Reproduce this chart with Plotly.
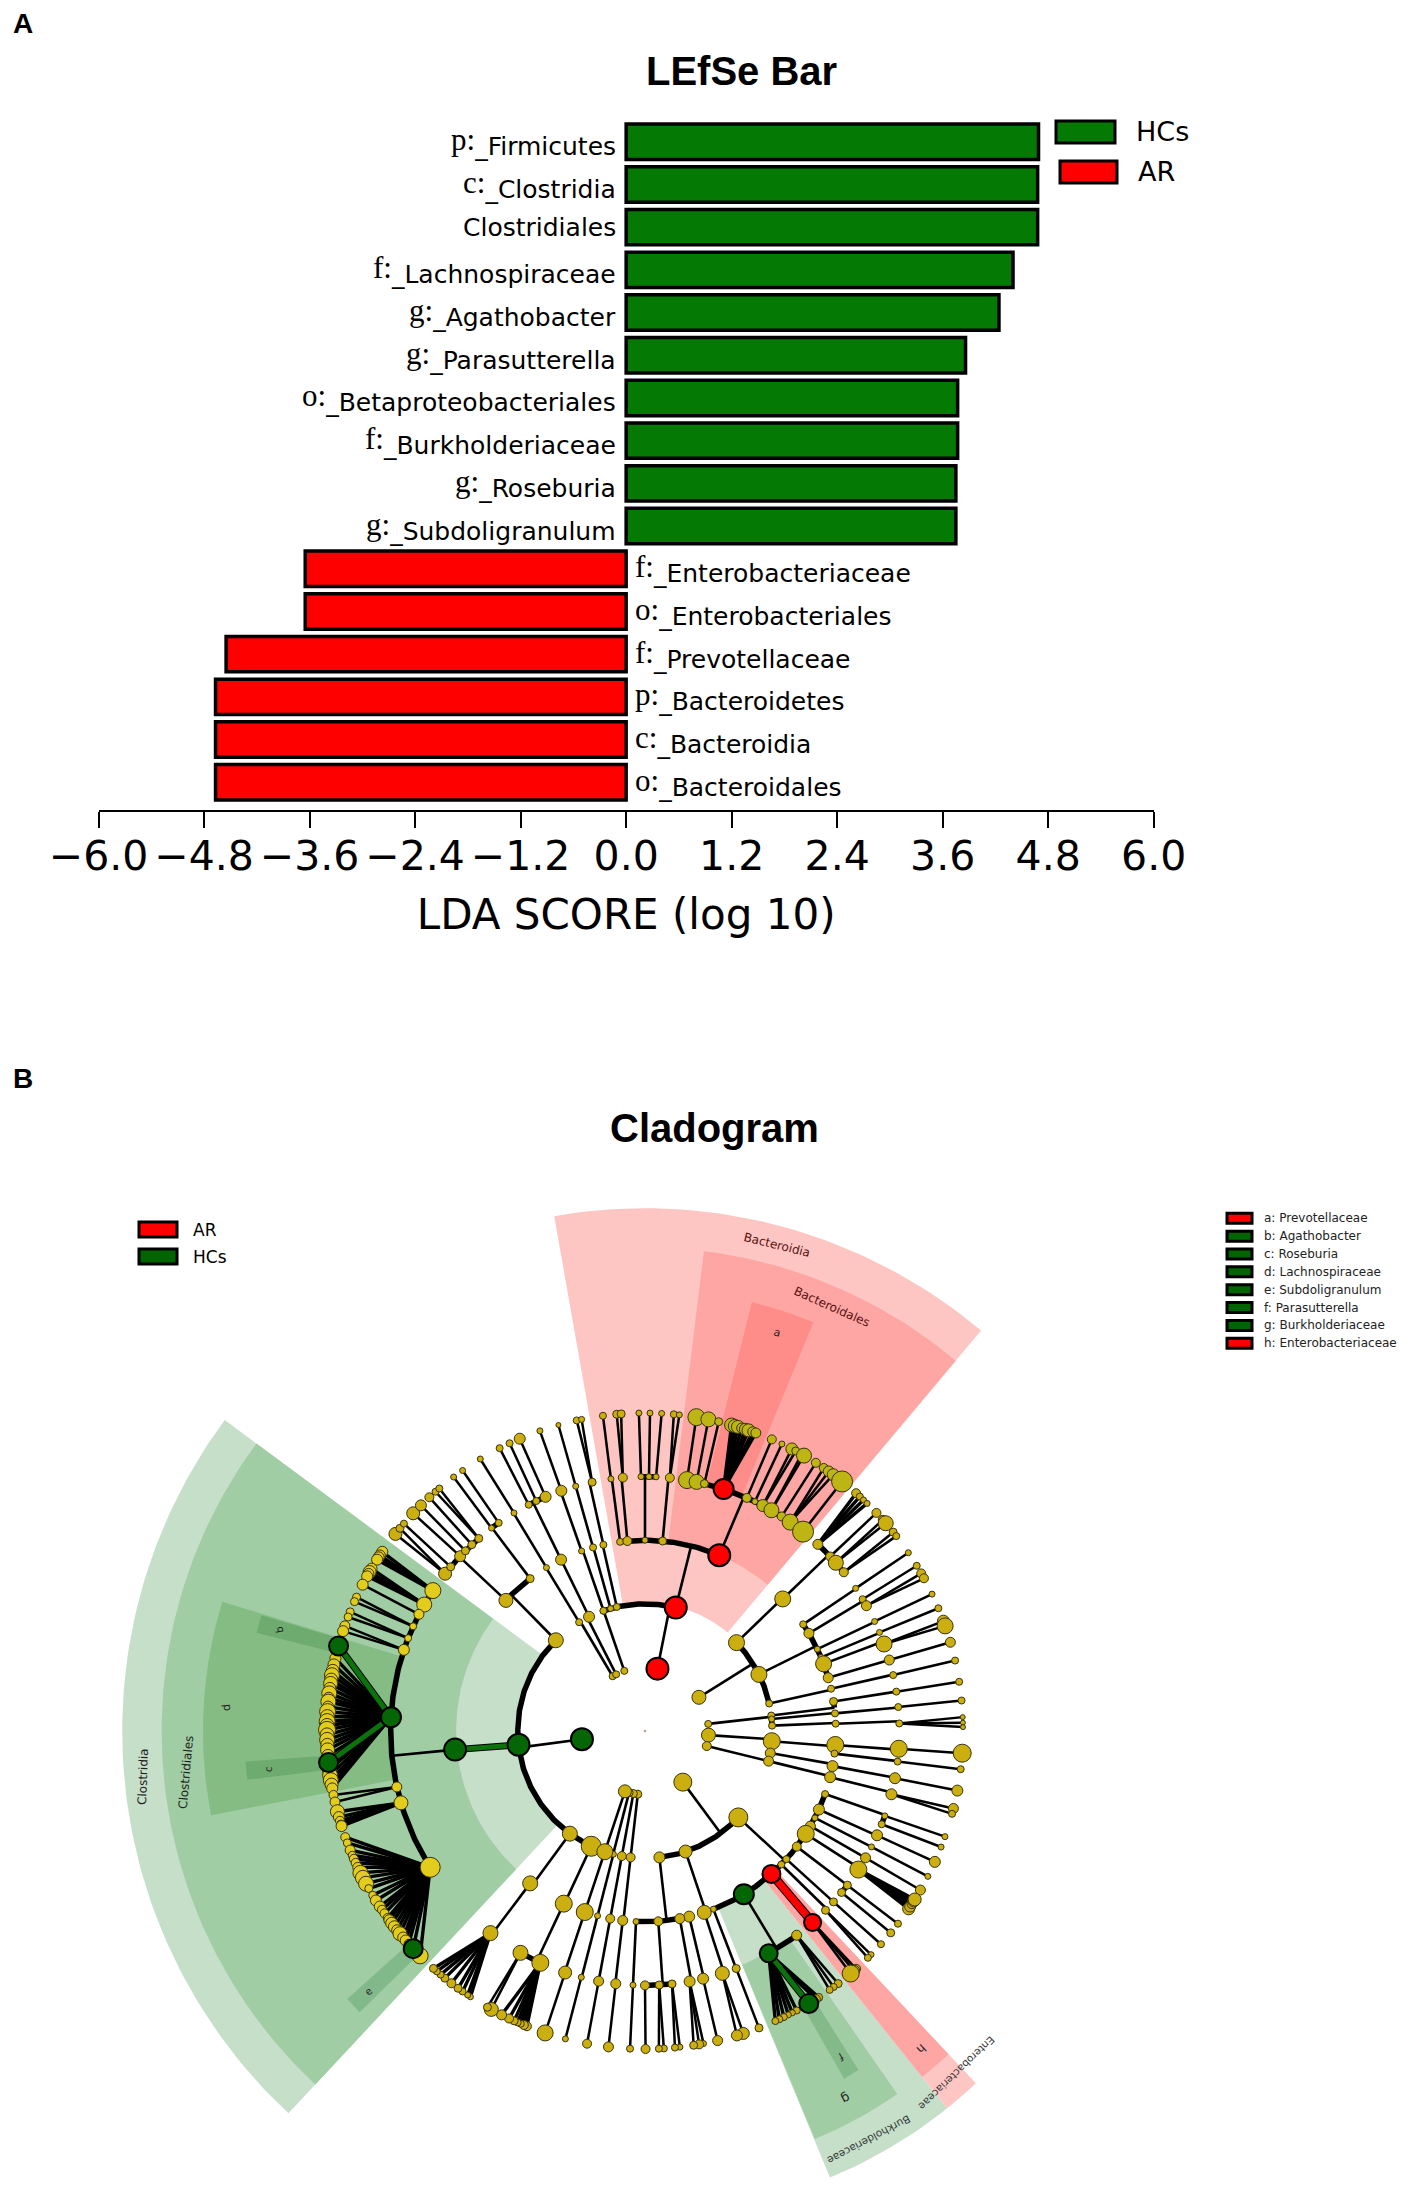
import math
import plotly.graph_objects as go

# ---------- Panel A data ----------
bar_taxa = ["p:|_Firmicutes", "c:|_Clostridia", "|Clostridiales", "f:|_Lachnospiraceae", "g:|_Agathobacter",
            "g:|_Parasutterella", "o:|_Betaproteobacteriales", "f:|_Burkholderiaceae", "g:|_Roseburia",
            "g:|_Subdoligranulum", "f:|_Enterobacteriaceae", "o:|_Enterobacteriales", "f:|_Prevotellaceae",
            "p:|_Bacteroidetes", "c:|_Bacteroidia", "o:|_Bacteroidales"]
hc_scores = [4.69, 4.68, 4.68, 4.40, 4.24, 3.86, 3.77, 3.77, 3.75, 3.75]
ar_scores = [-3.65, -3.65, -4.55, -4.67, -4.67, -4.67]
lda_ticks = [-6.0, -4.8, -3.6, -2.4, -1.2, 0.0, 1.2, 2.4, 3.6, 4.8, 6.0]
lda_labels = ["−6.0", "−4.8", "−3.6", "−2.4", "−1.2", "0.0", "1.2", "2.4", "3.6", "4.8", "6.0"]

# ---------- Panel B data: (angle in degrees, node size, parent's angle) per taxonomic level ----------
phylum_rows = [(78.7, 22), (187.5, 22), (120.6, 7), (117, 7), (109, 7), (32, 14), (6.4, 7), (-3.7, 14), (-13.7, 9),
               (-53.5, 18), (-96.5, 8), (-100.5, 8), (-104.5, 8), (-108.4, 13)]
class_rows = [(76, 22, 78.7), (109, 7, 78.7), (105.7, 6, 78.7), (102.8, 7, 78.7), (109.1, 7, 109),
              (121.2, 7, 120.6), (116.1, 11, 117),
              (186.2, 22, 187.5), (134.5, 15, 187.5), (233.8, 15, 187.5), (245, 20, 187.5),
              (44, 16, 32), (26.4, 16, 32), (12.5, 7, 32), (7, 7, 6.4), (5.4, 6, 6.4), (2.4, 7, 6.4),
              (-4.6, 17, -3.7), (-10, 10, -13.7), (-13.7, 10, -13.7),
              (-42.8, 19, -53.5), (-71.4, 13, -53.5), (-83.5, 11, -53.5),
              (-96.5, 9, -96.5), (-100.5, 9, -100.5), (-104.4, 6, -104.5), (-108.4, 16, -108.4)]
order_rows = [(97.5, 7, 76), (95.3, 9, 76), (90, 6, 76), (84.7, 8, 76), (67.1, 22, 76),
              (109.4, 6, 109), (105.8, 7, 105.7), (102.6, 7, 102.8), (121.1, 6, 121.2), (116.1, 11, 116.1),
              (185.6, 22, 186.2), (136.8, 14, 134.5), (127, 8, 134.5), (233, 15, 233.8), (244.8, 17, 245),
              (43.8, 16, 44), (34, 7, 26.4), (30.8, 10, 26.4), (25.4, 6, 26.4), (22.7, 6, 26.4), (20.6, 16, 26.4),
              (16.2, 10, 26.4), (12.8, 7, 12.5), (8.9, 8, 7), (5.3, 7, 5.4), (2.2, 7, 2.4),
              (-4.2, 17, -4.6), (-6.8, 7, -4.6), (-10.6, 11, -10), (-14, 11, -13.7),
              (-19.3, 7, -42.8), (-24.3, 11, -42.8), (-27.1, 6, -42.8), (-29.9, 10, -42.8), (-32.6, 17, -42.8),
              (-37.3, 9, -42.8), (-42.2, 7, -42.8), (-44.4, 7, -42.8), (-48.5, 18, -42.8), (-58.8, 20, -42.8),
              (-69, 6, -42.8), (-71.9, 14, -71.4), (-76.6, 11, -83.5), (-79.5, 10, -83.5), (-86, 9, -83.5),
              (-92.7, 6, -83.5), (-96.7, 10, -96.5), (-100.5, 9, -100.5), (-104.4, 6, -104.4), (-108.4, 17, -108.4)]
family_rows = [(146.5, 16, 185.6), (150.2, 15, 185.6), (152.7, 10, 185.6), (155.7, 7, 185.6), (158.6, 7, 185.6),
               (161.4, 11, 185.6), (176.9, 20, 185.6), (192.7, 10, 185.6), (196.4, 14, 185.6), (212.4, 20, 185.6),
               (141.8, 13, 136.8), (139.8, 8, 136.8), (136.6, 11, 136.8), (134.9, 8, 136.8), (132.9, 8, 136.8),
               (130.8, 8, 136.8), (127.1, 6, 127), (125.1, 7, 127), (121, 6, 121.1), (117.2, 7, 116.1),
               (115.3, 7, 116.1), (113, 11, 116.1), (109.2, 11, 109.4), (105.8, 6, 105.8), (102, 8, 102.6),
               (97.7, 6, 97.5), (95, 9, 95.3), (90.9, 6, 90), (89.1, 6, 90), (87.5, 6, 90), (84.4, 9, 84.7),
               (80.5, 17, 67.1), (78.3, 15, 67.1), (76.5, 8, 67.1), (72, 20, 67.1), (66.4, 9, 67.1), (64.4, 6, 67.1),
               (62.4, 12, 67.1), (60.2, 15, 67.1), (57.5, 9, 67.1), (55.2, 16, 67.1), (51.6, 21, 67.1),
               (47.2, 10, 43.8), (43.3, 9, 43.8), (41.4, 15, 43.8), (38.6, 9, 43.8),
               (34.1, 6, 34), (31.2, 7, 30.8), (29.5, 10, 30.8), (25.5, 6, 25.4), (22.8, 6, 22.7), (20, 16, 20.6),
               (16.2, 10, 16.2), (12.7, 7, 12.8), (8.9, 7, 8.9), (5.4, 7, 5.3), (1.7, 7, 2.2),
               (-4, 17, -4.2), (-6.9, 7, -6.8), (-10.7, 11, -10.6), (-14.4, 11, -14),
               (-19.5, 6, -19.3), (-21.5, 7, -19.3), (-24.2, 11, -24.3), (-27.1, 6, -27.1), (-29.9, 10, -29.9),
               (-33, 17, -32.6), (-37.3, 8, -37.3), (-39.4, 8, -37.3), (-42.2, 8, -42.2), (-44.8, 8, -44.4),
               (-48.8, 17, -48.5), (-53.4, 10, -58.8), (-60.9, 18, -58.8), (-69, 8, -69), (-72.3, 14, -71.9),
               (-76.8, 11, -76.6), (-79.9, 11, -79.5), (-83.9, 8, -86), (-86.8, 8, -86), (-90, 9, -86),
               (-92.7, 6, -92.7), (-96.6, 10, -96.7), (-100.5, 10, -100.5), (-104.5, 6, -104.4), (-108.3, 13, -108.4),
               (245.7, 17, 244.8), (240.7, 15, 244.8), (232.6, 15, 233)]
genus_rows = [(97.6, 7, 97.7), (95.1, 8, 95), (94.3, 8, 95), (91.1, 6, 90.9), (89.1, 6, 89.1), (87, 6, 87.5),
              (84.8, 7, 84.4), (83.8, 6, 84.4), (80.7, 17, 80.5), (78.5, 15, 78.3), (76.6, 8, 76.5),
              (74.2, 14, 72), (73.6, 13, 72), (73, 13, 72), (72.3, 10, 72), (71.6, 12, 72), (71, 13, 72),
              (70.2, 10, 72), (69.6, 10, 72),
              (66.5, 9, 66.4), (64.5, 6, 64.4), (62.5, 12, 62.4), (61.7, 8, 62.4), (60.5, 8, 60.2), (60, 15, 60.2),
              (57.5, 9, 57.5), (55.8, 9, 55.2), (54.7, 11, 55.2), (53.7, 12, 55.2), (51.7, 21, 51.6),
              (48.4, 9, 47.2), (47.5, 7, 47.2), (46.6, 6, 47.2), (45.7, 6, 47.2), (43.3, 9, 43.3),
              (41.6, 9, 41.4), (40.8, 15, 41.4), (38.7, 8, 38.6), (37.8, 7, 38.6), (34.1, 6, 34.1), (31.3, 7, 31.2),
              (29.7, 9, 29.5), (28.7, 9, 29.5), (25.5, 6, 25.5), (22.7, 7, 22.8), (20.2, 12, 20), (19.3, 16, 20),
              (16.2, 10, 16.2), (12.8, 7, 12.7), (8.9, 7, 8.9), (5.5, 7, 5.4), (2.5, 5, 1.7), (1.5, 5, 1.7), (0.7, 5, 1.7),
              (-4, 18, -4), (-6.9, 7, -6.9), (-10.8, 11, -10.7), (-14.1, 10, -14.4), (-15.1, 7, -14.4),
              (-19.4, 6, -19.5), (-21.4, 6, -21.5), (-24.3, 11, -24.2), (-27.2, 6, -27.1), (-30, 10, -29.9),
              (-34, 12, -33), (-33.5, 11, -33), (-32.9, 10, -33), (-32.3, 12, -33), (-32, 13, -33),
              (-37.3, 7, -37.3), (-39.4, 8, -39.4), (-42.1, 7, -42.2), (-44.7, 6, -44.8), (-45.5, 7, -44.8),
              (-48.4, 9, -48.8), (-48.9, 11, -48.8), (-49.7, 17, -48.8),
              (-52.6, 8, -53.4), (-53.6, 7, -53.4), (-54.5, 7, -53.4),
              (-56.9, 8, -60.9), (-57.5, 9, -60.9), (-59, 19, -60.9), (-61.5, 7, -60.9), (-62.4, 6, -60.9), (-63.2, 6, -60.9),
              (-64.1, 7, -60.9), (-65, 7, -60.9), (-65.8, 7, -60.9),
              (-69, 8, -69), (-72, 12, -72.3), (-73.2, 11, -72.3), (-76.8, 10, -76.8), (-79.4, 6, -79.9), (-80.2, 9, -79.9),
              (-81.2, 8, -79.9), (-83.7, 6, -83.9), (-84.6, 7, -83.9), (-86.6, 7, -86.8), (-87.5, 7, -86.8), (-89.9, 9, -90),
              (-92.7, 7, -92.7), (-96.6, 10, -96.6), (-100.5, 9, -100.5), (-104.5, 6, -104.5), (-108.3, 16, -108.3),
              (248.2, 9, 245.7), (247.6, 9, 245.7), (247, 7, 245.7), (246.4, 7, 245.7), (245.7, 8, 245.7),
              (244.7, 9, 245.7), (243.2, 10, 245.7), (241.1, 14, 240.7), (240.3, 8, 240.7),
              (236.7, 6, 232.6), (236.1, 6, 232.6), (235, 7, 232.6), (234, 8, 232.6), (232.5, 9, 232.6), (231, 8, 232.6), (230, 7, 232.6),
              (229.1, 7, 232.6), (228.3, 8, 232.6),
              (141.7, 13, 141.8), (140.4, 8, 141.8), (139.3, 7, 139.8), (136.8, 13, 136.6), (134.8, 11, 134.9),
              (132.7, 9, 132.9), (131.2, 7, 130.8), (130.3, 7, 130.8), (127, 6, 127.1), (125, 6, 125.1), (121.2, 6, 121),
              (117.2, 7, 117.2), (115.2, 7, 115.3), (113.2, 11, 113), (109.3, 6, 109.2), (105.8, 5, 105.8), (102.4, 7, 102),
              (101.5, 6, 102),
              (145.7, 11, 146.5), (146.5, 11, 146.5), (146.9, 11, 146.5), (147.4, 11, 146.5),
              (149.3, 11, 150.2), (150, 13, 150.2), (150.4, 11, 150.2), (150.9, 11, 150.2), (152.6, 11, 152.7),
              (155.1, 8, 155.7), (156, 8, 155.7), (158, 8, 158.6), (159, 8, 158.6), (160.7, 10, 161.4), (161.7, 11, 161.4),
              (164.5, 19, 176.9), (166.8, 11, 176.9), (168, 12, 176.9), (169.1, 13, 176.9), (169.9, 15, 176.9), (170.7, 13, 176.9),
              (171.4, 14, 176.9), (172.3, 12, 176.9), (173.2, 15, 176.9), (174, 11, 176.9), (174.7, 15, 176.9), (175.6, 11, 176.9),
              (176.5, 16, 176.9), (177.4, 14, 176.9), (178.3, 16, 176.9), (179, 14, 176.9), (179.8, 17, 176.9), (180.7, 14, 176.9),
              (181.6, 15, 176.9), (182.5, 13, 176.9), (183.4, 14, 176.9), (184.4, 12, 176.9), (185.7, 19, 176.9),
              (187, 14, 176.9), (188, 15, 176.9), (188.9, 15, 176.9), (189.7, 13, 176.9), (190.4, 11, 176.9),
              (191.6, 9, 192.7), (192.9, 10, 192.7), (194.7, 14, 196.4), (195.7, 11, 196.4), (196.4, 9, 196.4), (197, 8, 196.4), (197.4, 11, 196.4),
              (199.5, 9, 212.4), (200.6, 8, 212.4), (202, 10, 212.4), (203, 8, 212.4), (203.7, 9, 212.4), (204.5, 9, 212.4),
              (205.4, 10, 212.4), (206.5, 15, 212.4), (207.5, 15, 212.4), (208.7, 15, 212.4), (209.7, 8, 212.4),
              (211.1, 8, 212.4), (212.2, 11, 212.4), (213.5, 11, 212.4), (214.2, 9, 212.4), (215, 9, 212.4), (216, 9, 212.4),
              (216.5, 11, 212.4), (217.2, 12, 212.4), (218, 12, 212.4), (218.8, 11, 212.4), (219.6, 14, 212.4), (220.5, 11, 212.4),
              (221.2, 11, 212.4), (222, 9, 212.4), (223.2, 19, 212.4), (225, 16, 212.4)]

red_clades = [(1, 78.7), (2, 76), (3, 67.1), (4, 72), (3, -48.5), (4, -48.8)]
green_clades = [(1, 187.5), (2, 186.2), (3, 185.6), (4, 176.9), (5, 164.5), (5, 185.7), (5, 223.2),
                (3, -58.8), (4, -60.9), (5, -59)]
green_links = [(2, 186.2, 185.6), (4, 176.9, 164.5), (4, 176.9, 185.7), (4, -60.9, -59)]
red_links = [(3, -48.5, -48.8)]

# shaded clades: angle start, angle end, inner radius level, outer radius level, colour
clade_sectors = [("Clostridia", 143.5, 227, 2.02, 8.22, "#c6dfc9"),
                 ("Clostridiales", 143.5, 227, 2.97, 7.6, "#a0cda3"),
                 ("Lachnospiraceae", 163, 191, 3.95, 6.95, "#84bc84"),
                 ("Bacteroidia", 50, 100, 2.02, 8.22, "#fdc6c3"),
                 ("Bacteroidales", 50, 83, 3.0, 7.6, "#fda6a3"),
                 ("Prevotellaceae", 67.6, 76, 3.95, 6.95, "#fe8d89"),
                 ("Burkholderiaceae", -67.5, -51.3, 3.0, 7.6, "#c6dfc9"),
                 ("Burkholderiaceae g", -67.4, -55.2, 3.98, 6.95, "#a0cda3"),
                 ("Enterobacteriaceae", -51.3, -46.8, 3.0, 7.6, "#fdc6c3"),
                 ("Enterobacteriaceae h", -51.3, -46.8, 3.0, 6.97, "#fda6a3"),
                 ("Agathobacter", 163.2, 165.8, 5, 6.3, "#6dab6e"),
                 ("Roseburia", 184.4, 187, 5, 6.3, "#6dab6e"),
                 ("Subdoligranulum", 222, 224.6, 5, 6.3, "#82b98a"),
                 ("Parasutterella", -60.2, -57.8, 5, 6.3, "#84b98a")]

left_legend = [("AR", "#ff0000"), ("HCs", "#006400")]
clade_legend = [("a: Prevotellaceae", "#ff0000"), ("b: Agathobacter", "#006400"), ("c: Roseburia", "#006400"),
                ("d: Lachnospiraceae", "#006400"), ("e: Subdoligranulum", "#006400"), ("f: Parasutterella", "#006400"),
                ("g: Burkholderiaceae", "#006400"), ("h: Enterobacteriaceae", "#ff0000")]

# ---------- Figure set-up ----------
W, H = 1417, 2203
CX, CY, UNIT = 645, 1731, 63.6
SANS = "DejaVu Sans"
fig = go.Figure()

def px(x): return x / W
def py(y): return 1 - y / H
def polar(t, level):
    a = math.radians(t)
    return level * UNIT * math.cos(a), level * UNIT * math.sin(a)

# ---------- Panel A ----------
names = [t.replace("|", "") for t in bar_taxa]
fig.add_bar(y=names[:10], x=hc_scores, orientation="h", width=0.83, name="HCs", showlegend=False,
            marker=dict(color="#047a04", line=dict(color="black", width=3.5)), xaxis="x", yaxis="y")
fig.add_bar(y=names[10:], x=ar_scores, orientation="h", width=0.83, name="AR", showlegend=False,
            marker=dict(color="#ff0000", line=dict(color="black", width=3.5)), xaxis="x", yaxis="y")

annotations = []
def label(x, y, text, size, align="center", color="black", family=SANS, angle=0, bold=False):
    annotations.append(dict(x=px(x), y=py(y), xref="paper", yref="paper", text=f"<b>{text}</b>" if bold else text,
                            showarrow=False, xanchor=align, yanchor="middle", textangle=angle,
                            font=dict(family=family, size=size, color=color)))

for i, taxon in enumerate(bar_taxa):
    prefix, rest = taxon.split("|")
    txt = rest
    if prefix:
        txt = ("<span style=\"font-family:'Liberation Serif';font-size:31px;baseline-shift:5px\">" + prefix + "</span>" + rest)
    positive = i < 10
    annotations.append(dict(x=0, y=names[i], xref="x", yref="y", text=txt, showarrow=False,
                            xanchor="right" if positive else "left", xshift=-8 if positive else 7, yshift=0,
                            font=dict(family=SANS, size=25, color="black")))

shapes = []
def patch(x0, y0, x1, y1, color, lw):
    shapes.append(dict(type="rect", xref="paper", yref="paper", x0=px(x0), x1=px(x1), y0=py(y0), y1=py(y1),
                       fillcolor=color, line=dict(color="black", width=lw)))
patch(1056, 121, 1115, 143, "#047a04", 3)
patch(1060, 161, 1117, 183, "#ff0000", 3)
label(1134, 132, "HCs", 27, "left")
label(1136, 172, "AR", 27, "left")
label(23, 24, "A", 28, bold=True, family="Liberation Sans")
label(741, 71, "LEfSe Bar", 40, bold=True, family="Liberation Sans")
label(23, 1079, "B", 28, bold=True, family="Liberation Sans")
label(714, 1128, "Cladogram", 40, bold=True, family="Liberation Sans")

# ---------- Panel B: shaded clades ----------
for name, t0, t1, r0, r1, color in clade_sectors:
    n = max(int(abs(t1 - t0)), 2)
    ts = [t0 + (t1 - t0) * k / n for k in range(n + 1)]
    outer = [polar(t, r1) for t in ts]
    inner = [polar(t, r0) for t in reversed(ts)]
    pts = outer + inner + [outer[0]]
    fig.add_scatter(x=[p[0] for p in pts], y=[p[1] for p in pts], mode="lines", fill="toself", fillcolor=color,
                    line=dict(width=0), name=name, showlegend=False, hoverinfo="skip", xaxis="x2", yaxis="y2")

# ---------- Panel B: tree edges ----------
levels = {1: [(t, s, None) for t, s in phylum_rows], 2: class_rows, 3: order_rows, 4: family_rows, 5: genus_rows}

thin_x, thin_y, fan_x, fan_y, dense_x, dense_y, arc_x, arc_y = [], [], [], [], [], [], [], []
for lv in (2, 3, 4):
    groups = {}
    for t, s, parent in levels[lv]:
        groups.setdefault(parent, []).append(t)
    for parent, kids in groups.items():
        a, b = polar(parent, lv - 1), polar(parent, lv)
        thin_x += [a[0], b[0], None]
        thin_y += [a[1], b[1], None]
        lo, hi = min(kids + [parent]), max(kids + [parent])
        steps = max(int((hi - lo) * 2), 1)
        for k in range(steps + 1):
            p = polar(lo + (hi - lo) * k / steps, lv)
            arc_x.append(p[0])
            arc_y.append(p[1])
        arc_x.append(None)
        arc_y.append(None)
kid_counts = {}
for t, s, parent in genus_rows:
    kid_counts[parent] = kid_counts.get(parent, 0) + 1
for t, s, parent in genus_rows:
    a, b = polar(parent, 4), polar(t, 5)
    if kid_counts[parent] >= 4:
        dense_x += [a[0], b[0], None]
        dense_y += [a[1], b[1], None]
    else:
        fan_x += [a[0], b[0], None]
        fan_y += [a[1], b[1], None]

for xs, ys, w, nm in ((fan_x, fan_y, 2.5, "genus links"), (dense_x, dense_y, 3.4, "dense genus links"),
                      (thin_x, thin_y, 2.6, "radial links"), (arc_x, arc_y, 5.5, "arcs")):
    fig.add_scatter(x=xs, y=ys, mode="lines", line=dict(color="black", width=w), name=nm, showlegend=False,
                    hoverinfo="skip", xaxis="x2", yaxis="y2")

for links, col, w in ((green_links, "#0c720c", 5), (red_links, "#ff0000", 7)):
    xs, ys = [], []
    for lv, t0, t1 in links:
        a, b = polar(t0, lv), polar(t1, lv + 1)
        xs += [a[0], b[0], None]
        ys += [a[1], b[1], None]
    fig.add_scatter(x=xs, y=ys, mode="lines", line=dict(color="black", width=w + 2), showlegend=False,
                    hoverinfo="skip", xaxis="x2", yaxis="y2")
    fig.add_scatter(x=xs, y=ys, mode="lines", line=dict(color=col, width=w), showlegend=False,
                    hoverinfo="skip", xaxis="x2", yaxis="y2")

# ---------- Panel B: nodes ----------
def tint(t):
    if 143.5 <= t <= 227:
        return "#e3cd1c"
    if 50 <= t <= 83:
        return "#bdb514"
    return "#cbae10"

for lv in (5, 4, 3, 2, 1):
    rows = levels[lv]
    plain = [r for r in rows if (lv, r[0]) not in red_clades and (lv, r[0]) not in green_clades]
    pts = [polar(r[0], lv) for r in plain]
    fig.add_scatter(x=[p[0] for p in pts], y=[p[1] for p in pts], mode="markers", showlegend=False, hoverinfo="skip",
                    marker=dict(size=[r[1] for r in plain], color=[tint(r[0]) for r in plain], opacity=1,
                                line=dict(color="#3a3208", width=1)), xaxis="x2", yaxis="y2", name=f"level {lv}")
for clades, col in ((green_clades, "#056605"), (red_clades, "#ff0000")):
    xs, ys, ss = [], [], []
    for lv, t in clades:
        s = [r[1] for r in levels[lv] if r[0] == t][0]
        p = polar(t, lv)
        xs.append(p[0])
        ys.append(p[1])
        ss.append(s)
    fig.add_scatter(x=xs, y=ys, mode="markers", showlegend=False, hoverinfo="skip",
                    marker=dict(size=ss, color=col, opacity=1, line=dict(color="black", width=2)), xaxis="x2", yaxis="y2")
fig.add_scatter(x=[0], y=[0], mode="markers", marker=dict(size=2.5, color="#c99a90"), showlegend=False,
                hoverinfo="skip", xaxis="x2", yaxis="y2")

# ---------- Panel B: text ----------
label(777, 1245, "Bacteroidia", 12, color="#5a1010", angle=14)
label(832, 1307, "Bacteroidales", 12, color="#5a1010", angle=24)
label(777, 1332, "a", 11, color="#222222", angle=14)
label(143, 1777, "Clostridia", 12, color="#222222", angle=-88)
label(186, 1772, "Clostridiales", 12, color="#222222", angle=-85)
label(226, 1708, "d", 11, color="#222222", angle=-95)
label(279, 1630, "b", 10, color="#222222", angle=-100)
label(268, 1769, "c", 10, color="#222222", angle=-87)
label(368, 1991, "e", 10, color="#222222", angle=-45)
label(841, 2057, "f", 11, color="#222222", angle=150)
label(846, 2099, "g", 13, color="#222222", angle=152)
label(921, 2049, "h", 12, color="#222222", angle=137)
label(869, 2140, "Burkholderiaceae", 10.5, color="#333a3a", angle=152)
label(957, 2073, "Enterobacteriaceae", 10.3, color="#333333", angle=136)

for i, (txt, col) in enumerate(left_legend):
    y = 1229.5 + 27 * i
    patch(139, y - 7.5, 177, y + 7.5, col, 3)
    label(191, y, txt, 17, "left")
for i, (txt, col) in enumerate(clade_legend):
    y = 1218.3 + 17.85 * i
    patch(1227, y - 5, 1252, y + 5, col, 3)
    label(1262, y, txt, 12, "left", color="#222222")

# ---------- Axes ----------
fig.update_layout(
    width=W, height=H, autosize=False, margin=dict(l=0, r=0, t=0, b=0, autoexpand=False), paper_bgcolor="white",
    plot_bgcolor="rgba(0,0,0,0)", showlegend=False, barmode="overlay", annotations=annotations, shapes=shapes,
    xaxis=dict(domain=[px(98.6), px(1153.7)], range=[-6, 6], tickmode="array", tickvals=lda_ticks, ticktext=lda_labels,
               tickangle=0, ticks="outside", ticklen=16, tickwidth=1.5, tickcolor="black", showgrid=False, zeroline=False,
               automargin=False, ticklabelstandoff=-7,
               showline=True, linecolor="black", linewidth=1.5, tickfont=dict(family=SANS, size=41, color="black"),
               title=dict(text="LDA SCORE (log 10)", font=dict(family=SANS, size=42, color="black"), standoff=21),
               anchor="y"),
    yaxis=dict(domain=[py(810), py(120.4)], range=[15.65, -0.5], type="category", categoryorder="array", automargin=False,
               categoryarray=names, showticklabels=False, ticks="", showgrid=False, zeroline=False, showline=False, anchor="x"),
    xaxis2=dict(domain=[0, 1], range=[-CX, W - CX], visible=False, anchor="y2", automargin=False),
    yaxis2=dict(domain=[0, 1], range=[CY - H, CY], visible=False, anchor="x2", automargin=False),
)
fig.write_html("out.html", config={"displayModeBar": False}, post_script="document.body.style.margin='0';")
